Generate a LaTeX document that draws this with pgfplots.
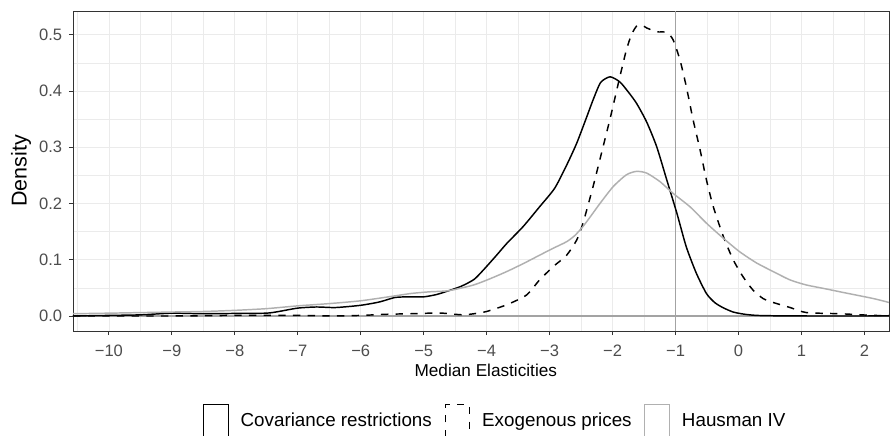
\documentclass[border=0pt]{standalone}
\usepackage{fontspec}
\setmainfont{Liberation Sans}
\usepackage{pgfplots}
\pgfplotsset{compat=1.18}
\definecolor{gridgray}{HTML}{EBEBEB}
\definecolor{bordergray}{HTML}{333333}
\definecolor{ticktext}{HTML}{4D4D4D}
\definecolor{refgray}{HTML}{A3A3A3}
\definecolor{hausgray}{HTML}{B0B0B0}

\begin{document}
\begin{tikzpicture}
\begin{axis}[
    scale only axis,
    width=612pt, height=240pt,
    xmin=-10.57, xmax=2.39,
    ymin=-0.0267, ymax=0.542,
    xtick={-10,-9,-8,-7,-6,-5,-4,-3,-2,-1,0,1,2},
    xticklabels={−10,−9,−8,−7,−6,−5,−4,−3,−2,−1,0,1,2},
    ytick={0,0.1,0.2,0.3,0.4,0.5},
    yticklabels={0.0,0.1,0.2,0.3,0.4,0.5},
    minor xtick={-10.5,-9.5,-8.5,-7.5,-6.5,-5.5,-4.5,-3.5,-2.5,-1.5,-0.5,0.5,1.5},
    minor ytick={0.05,0.15,0.25,0.35,0.45},
    grid=both,
    major grid style={color=gridgray, line width=0.55pt},
    minor grid style={color=gridgray, line width=0.3pt},
    axis line style={color=bordergray, line width=0.6pt},
    tick pos=left,
    tick align=outside,
    major tick length=3pt,
    minor tick length=0pt,
    major tick style={color=bordergray, line width=0.6pt},
    xticklabel style={font=\fontsize{12.4}{14}\selectfont, text=ticktext, inner sep=0pt, anchor=north, yshift=-7.5pt},
    yticklabel style={font=\fontsize{12.4}{14}\selectfont, text=ticktext, inner sep=0pt, anchor=east, xshift=-5pt},
    xlabel={Median Elasticities},
    ylabel={Density},
    xlabel style={font=\fontsize{12.9}{15}\selectfont, inner sep=0pt, anchor=base, at={(axis description cs:0.5059,-0.1428)}},
    ylabel style={font=\fontsize{16.1}{18}\selectfont, inner sep=0pt, anchor=base, at={(axis description cs:-0.0567,0.5)}},
    legend columns=3,
    legend style={at={(axis description cs:0.159,-0.281)}, anchor=west, draw=none, fill=none, inner sep=0pt,
        font=\fontsize{14.1}{16}\selectfont, nodes={inner sep=0pt},
        /tikz/every odd column/.append style={column sep=9pt},
        /tikz/every even column/.append style={column sep=9.5pt}},
    legend image code/.code={\draw[#1, line width=0.75pt] (0pt,-12pt) rectangle (18.5pt,12pt);},
]
\addplot[refgray, line width=1.35pt, forget plot] coordinates {(-1,-0.0267) (-1,0.542)};
\addplot[refgray, line width=1.35pt, forget plot] coordinates {(-10.57,0) (2.39,0)};

\addplot[black, line width=1.1pt, smooth, tension=0.4] coordinates {
(-10.57,0.000) (-10.0,0.001) (-9.5,0.002) (-9.0,0.005) (-8.5,0.004) (-8.0,0.0045) (-7.5,0.005)
(-7.3,0.008) (-7.0,0.014) (-6.7,0.016) (-6.4,0.015) (-6.0,0.019) (-5.7,0.025) (-5.45,0.033)
(-5.2,0.034) (-5.0,0.034) (-4.8,0.038) (-4.6,0.045) (-4.4,0.053) (-4.2,0.065) (-4.05,0.082)
(-3.85,0.107) (-3.68,0.129) (-3.42,0.159) (-3.16,0.194) (-2.92,0.227) (-2.73,0.268) (-2.57,0.307)
(-2.41,0.354) (-2.31,0.384) (-2.19,0.415) (-2.04,0.425) (-1.885,0.416) (-1.75,0.398) (-1.62,0.378)
(-1.46,0.345) (-1.30,0.301) (-1.14,0.242) (-0.98,0.183) (-0.83,0.123) (-0.67,0.076) (-0.51,0.040)
(-0.38,0.024) (-0.25,0.015) (-0.085,0.007) (0.1,0.003) (0.29,0.001) (0.6,0.0003) (1.0,0.0) (2.39,0.0)
};
\addlegendentry{Covariance restrictions}

\addplot[black, line width=1.1pt, dash pattern=on 5.5pt off 5.5pt, smooth, tension=0.4] coordinates {
(-10.57,0.000) (-9,0.000) (-8,0.001) (-7,0.001) (-6.5,0.000) (-6,0.001) (-5.6,0.003) (-5.2,0.004)
(-4.9,0.005) (-4.7,0.005) (-4.5,0.003) (-4.37,0.002) (-4.2,0.004) (-4.0,0.008) (-3.68,0.020)
(-3.37,0.037) (-3.16,0.064) (-2.94,0.088) (-2.73,0.108) (-2.57,0.135) (-2.47,0.165) (-2.31,0.230)
(-2.15,0.301) (-2.02,0.360) (-1.885,0.425) (-1.78,0.473) (-1.70,0.500) (-1.62,0.515) (-1.54,0.517)
(-1.46,0.512) (-1.30,0.505) (-1.14,0.504) (-1.04,0.491) (-0.93,0.455) (-0.83,0.408) (-0.72,0.348)
(-0.61,0.295) (-0.51,0.242) (-0.40,0.194) (-0.24,0.141) (-0.085,0.100) (0.07,0.070) (0.23,0.046)
(0.39,0.031) (0.55,0.024) (0.82,0.015) (1.08,0.006) (1.61,0.004) (2.14,0.001) (2.39,0.001)
};
\addlegendentry{Exogenous prices}

\addplot[hausgray, line width=1.1pt, smooth, tension=0.4] coordinates {
(-10.57,0.004) (-10,0.005) (-9.5,0.006) (-9,0.007) (-8.5,0.008) (-8,0.010) (-7.5,0.013) (-7,0.018)
(-6.5,0.022) (-6,0.027) (-5.5,0.035) (-5.2,0.040) (-4.9,0.043) (-4.6,0.045) (-4.21,0.055)
(-3.95,0.066) (-3.68,0.079) (-3.42,0.093) (-3.16,0.108) (-2.95,0.120) (-2.73,0.132) (-2.6,0.143)
(-2.47,0.159) (-2.33,0.180) (-2.20,0.200) (-1.99,0.230) (-1.78,0.251) (-1.62,0.257) (-1.46,0.254)
(-1.25,0.239) (-1.04,0.218) (-0.77,0.194) (-0.51,0.165) (-0.24,0.138) (0.02,0.114) (0.29,0.094)
(0.55,0.079) (0.82,0.064) (1.08,0.055) (1.35,0.049) (1.61,0.043) (2.14,0.031) (2.39,0.024)
};
\addlegendentry{Hausman IV}
\end{axis}
\pgfresetboundingbox
\useasboundingbox (-54.75pt,-78.75pt) rectangle (612.75pt,248.25pt);
\end{tikzpicture}
\end{document}
